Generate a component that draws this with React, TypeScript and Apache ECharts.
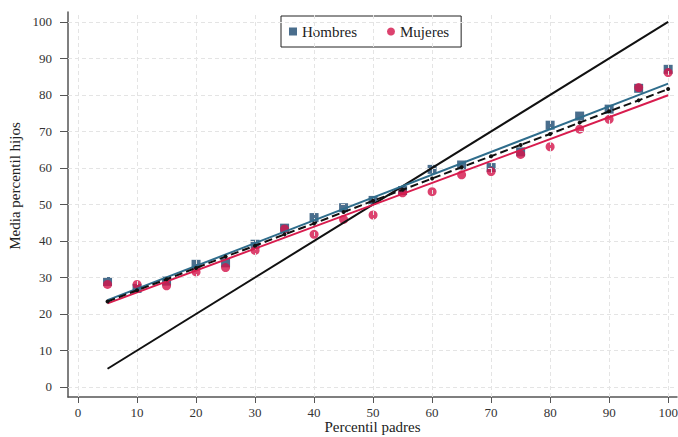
import React, { useEffect, useRef } from "react";
import * as echarts from "echarts";

const xValues = [5, 10, 15, 20, 25, 30, 35, 40, 45, 50, 55, 60, 65, 70, 75, 80, 85, 90, 95, 100];
const hombres = [28.9, 27.0, 29.0, 33.6, 34.0, 39.1, 43.5, 46.4, 49.1, 51.1, 53.8, 59.6, 60.8, 60.1, 64.4, 71.7, 74.2, 76.1, 81.8, 87.0];
const mujeres = [28.1, 28.1, 27.7, 31.5, 32.7, 37.4, 43.3, 41.8, 45.9, 47.1, 53.2, 53.5, 58.1, 59.0, 63.7, 65.8, 70.6, 73.3, 82.0, 86.1];
const totalFit = [23.4, 26.5, 29.5, 32.6, 35.7, 38.7, 41.8, 44.8, 47.9, 51.0, 54.0, 57.1, 60.2, 63.2, 66.3, 69.3, 72.4, 75.5, 78.5, 81.6];
const hombresFit: [number, number][] = [[5, 23.8], [100, 83.1]];
const mujeresFit: [number, number][] = [[5, 22.9], [100, 79.9]];
const diagonal: [number, number][] = [[5, 5], [100, 100]];
const tickValues = [0, 10, 20, 30, 40, 50, 60, 70, 80, 90, 100];

const FONT = "'Liberation Serif', 'DejaVu Serif', serif";
const BLUE_MARK = "#1d4a70";
const BLUE_LINE = "#2f6d8c";
const RED_MARK = "#d3134a";
const RED_LINE = "#d81c4e";

export default function App() {
  const ref = useRef<HTMLDivElement>(null);
  useEffect(() => {
    if (!ref.current) return;
    const chart = echarts.init(ref.current, undefined, { renderer: "svg" });
    const gridLine = { color: "#e4e4e4", width: 1, type: [4, 3] as any };
    chart.setOption({
      animation: false,
      backgroundColor: "#ffffff",
      textStyle: { fontFamily: FONT },
      grid: { left: 68, right: 1, top: 12, bottom: 40, containLabel: false, outerBoundsMode: "none" },
      legend: {
        left: 281,
        top: 16,
        padding: [8, 12, 8, 8],
        itemGap: 30,
        itemWidth: 8,
        itemHeight: 8,
        borderColor: "#222",
        borderWidth: 1,
        backgroundColor: "#fff",
        textStyle: { fontFamily: FONT, fontSize: 15, color: "#222" },
        data: [
          { name: "Hombres", icon: "rect" },
          { name: "Mujeres", icon: "circle" },
        ],
      },
      xAxis: {
        type: "value",
        min: -1.7,
        max: 101.5,
        name: "Percentil padres",
        nameLocation: "middle",
        nameGap: 22,
        nameMoveOverlap: false,
        nameTextStyle: { fontFamily: FONT, fontSize: 15, color: "#222", verticalAlign: "top" },
        axisLine: { show: true, onZero: false, lineStyle: { color: "#555", width: 1.5 } },
        axisTick: { show: true, customValues: tickValues, length: 6, lineStyle: { color: "#555" } },
        axisLabel: { customValues: tickValues, fontFamily: FONT, fontSize: 13, color: "#333", margin: 9 },
        splitLine: { show: false },
      },
      yAxis: {
        type: "value",
        min: -2.74,
        max: 102.7,
        axisLine: { show: true, onZero: false, lineStyle: { color: "#555", width: 1.5 } },
        axisTick: { show: true, customValues: tickValues, length: 8, lineStyle: { color: "#555" } },
        axisLabel: { customValues: tickValues, fontFamily: FONT, fontSize: 13, color: "#333", margin: 16 },
        splitLine: { show: false },
      },
      graphic: [
        {
          type: "text",
          x: 15,
          y: 186,
          rotation: Math.PI / 2,
          style: {
            text: "Media percentil hijos",
            font: `15px ${FONT}`,
            fill: "#222",
            align: "center",
            verticalAlign: "middle",
          },
        },
      ],
      series: [
        {
          name: "grid",
          type: "line",
          data: [],
          silent: true,
          markLine: {
            silent: true,
            symbol: "none",
            label: { show: false },
            lineStyle: gridLine,
            data: [
              ...tickValues.map((v) => ({ xAxis: v })),
              ...tickValues.map((v) => ({ yAxis: v })),
            ],
          },
        },
        {
          name: "Hombres",
          type: "scatter",
          symbol: "rect",
          symbolSize: 9,
          itemStyle: { color: BLUE_MARK },
          data: xValues.map((x, i) => [x, hombres[i]]),
          z: 3,
        },
        {
          name: "Mujeres",
          type: "scatter",
          symbol: "circle",
          symbolSize: 9,
          itemStyle: { color: RED_MARK },
          data: xValues.map((x, i) => [x, mujeres[i]]),
          z: 4,
        },
        {
          name: "Diagonal",
          type: "line",
          data: diagonal,
          showSymbol: false,
          lineStyle: { color: "#111", width: 2 },
          z: 5,
        },
        {
          name: "Ajuste Mujeres",
          type: "line",
          data: mujeresFit,
          showSymbol: false,
          lineStyle: { color: RED_LINE, width: 2 },
          z: 5,
        },
        {
          name: "Ajuste Hombres",
          type: "line",
          data: hombresFit,
          showSymbol: false,
          lineStyle: { color: BLUE_LINE, width: 2 },
          z: 5,
        },
        {
          name: "Total",
          type: "line",
          data: xValues.map((x, i) => [x, totalFit[i]]),
          symbol: "circle",
          symbolSize: 4,
          showSymbol: true,
          itemStyle: { color: "#111" },
          lineStyle: { color: "#111", width: 2, type: [8, 4] as any },
          z: 6,
        },
      ],
    });
    return () => chart.dispose();
  }, []);
  return <div ref={ref} style={{ width: 678, height: 437, position: "fixed", left: 0, top: 0 }} />;
}
